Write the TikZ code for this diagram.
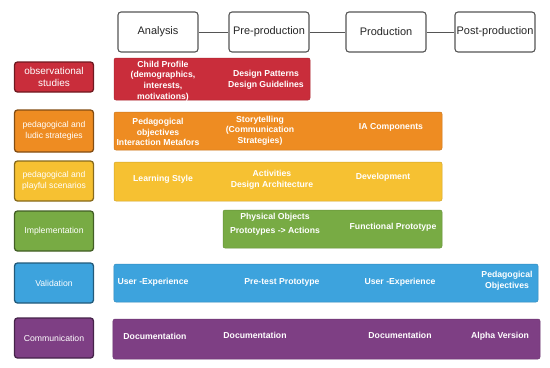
\documentclass[tikz,border=0pt]{standalone}
\usepackage{fontspec}
\setmainfont{Liberation Sans}
\definecolor{cred}{HTML}{C92D3B}
\definecolor{corange}{HTML}{EE8C22}
\definecolor{cyellow}{HTML}{F6C132}
\definecolor{cgreen}{HTML}{78AB44}
\definecolor{cblue}{HTML}{3DA3DD}
\definecolor{cpurple}{HTML}{7E3F84}
\definecolor{cgrey}{HTML}{555555}
\begin{document}
\begin{tikzpicture}[x=1bp,y=-1bp,
  phase/.style={draw=cgrey,line width=1.1bp,rounded corners=3bp,fill=white,
    minimum width=80bp,minimum height=40bp,inner sep=0pt,font=\fontsize{11}{12}\selectfont,text=black!85},
  link/.style={draw=cgrey,line width=1bp},
  side/.style={draw=#1!55!black,fill=#1,line width=1.3bp,rounded corners=3bp,
    minimum width=79bp,inner sep=0pt,text=white,align=center},
  bar/.style={draw=#1!85!black,fill=#1,line width=0.5bp,rounded corners=2bp,inner sep=0pt},
  lbl/.style={text=white,align=center,inner sep=0pt,font=\bfseries\fontsize{8.7}{10.7}\selectfont},
]
\useasboundingbox (0,0) rectangle (550,367);
% header
\node[phase] (an) at (158,32) {Analysis};
\node[phase] (pre) at (269,32) {Pre-production};
\node[phase] (pro) at (386,32) {Production};
\node[phase] (post) at (495,32) {Post-production};
\draw[link] (an) -- (pre);
\draw[link] (pre) -- (pro);
\draw[link] (pro) -- (post);
% left column
\node[side=cred,minimum height=30bp,font=\fontsize{10}{12}\selectfont] (s1) at (54,77) {observational\\studies};
\node[side=corange,minimum height=42bp,font=\fontsize{8.6}{10.5}\selectfont] (s2) at (54,131) {pedagogical and\\ludic strategies};
\node[side=cyellow,minimum height=40bp,font=\fontsize{8.6}{10.5}\selectfont] (s3) at (54,181) {pedagogical and\\playful scenarios};
\node[side=cgreen,minimum height=40bp,font=\fontsize{8.7}{10}\selectfont] (s4) at (54,231) {Implementation};
\node[side=cblue,minimum height=40bp,font=\fontsize{8.7}{10}\selectfont] (s5) at (54,283) {Validation};
\node[side=cpurple,minimum height=40bp,font=\fontsize{8.7}{10}\selectfont] (s6) at (54,338) {Communication};
% bars
\node[bar=cred,minimum width=196bp,minimum height=42bp] (b1) at (212,79) {};
\node[bar=corange,minimum width=328bp,minimum height=38bp] (b2) at (278,131) {};
\node[bar=cyellow,minimum width=328bp,minimum height=39bp] (b3) at (278,181.5) {};
\node[bar=cgreen,minimum width=219bp,minimum height=38bp] (b4) at (332.5,229) {};
\node[bar=cblue,minimum width=424bp,minimum height=38bp] (b5) at (326,283) {};
\node[bar=cpurple,minimum width=427bp,minimum height=40bp] (b6) at (326.5,339) {};
% row 1
\node[lbl] (t11) at (163,81) {Child Profile\\(demographics,\\interests,\\motivations)};
\node[lbl] (t12) at (266,80) {Design Patterns\\Design Guidelines};
% row 2
\node[lbl] (t21) at (158,132) {Pedagogical\\objectives\\Interaction Metafors};
\node[lbl] (t22) at (260,130.5) {Storytelling\\(Communication\\Strategies)};
\node[lbl] (t23) at (391,127) {IA Components};
% row 3
\node[lbl] (t31) at (163,179) {Learning Style};
\node[lbl] (t32) at (272,179.5) {Activities\\Design Architecture};
\node[lbl] (t33) at (383,177) {Development};
% row 4
\node[lbl] (t41) at (275,224) {Physical Objects\\[3bp]Prototypes -> Actions};
\node[lbl] (t42) at (393,227) {Functional Prototype};
% row 5
\node[lbl] (t51) at (153,282) {User -Experience};
\node[lbl] (t52) at (282,282) {Pre-test Prototype};
\node[lbl] (t53) at (400,282) {User -Experience};
\node[lbl] (t54) at (507,281) {Pedagogical\\Objectives};
% row 6
\node[lbl] (t61) at (155,336) {Documentation};
\node[lbl] (t62) at (255,335) {Documentation};
\node[lbl] (t63) at (400,335) {Documentation};
\node[lbl] (t64) at (500,336) {Alpha Version};
\end{tikzpicture}
\end{document}
